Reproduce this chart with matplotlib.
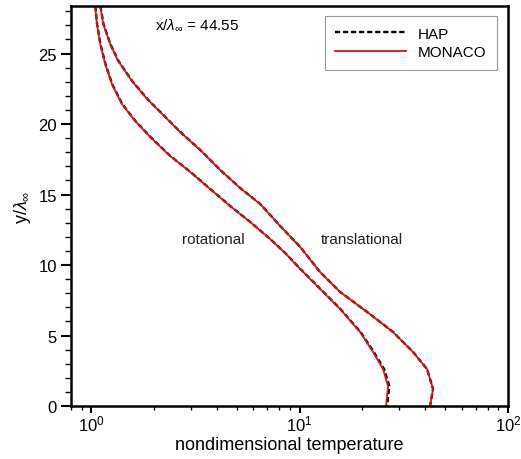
import matplotlib.pyplot as plt
from matplotlib.ticker import MultipleLocator, LogLocator, NullFormatter

plt.rcParams['font.family'] = ['Liberation Sans', 'DejaVu Sans']
plt.rcParams['mathtext.fontset'] = 'custom'
plt.rcParams['mathtext.rm'] = 'Liberation Sans'
plt.rcParams['mathtext.it'] = 'Liberation Sans:italic'

# wall-normal distance y/lambda_inf
y_rot = [28.37, 27.09, 25.67, 24.26, 22.84, 21.42, 20.21, 19.08, 17.73, 16.60,
         15.39, 14.18, 13.05, 11.84, 10.85, 9.72, 8.30, 6.88, 5.25, 3.83,
         2.62, 1.42, 0.0]
y_tr = [28.37, 27.09, 25.67, 24.47, 23.05, 21.77, 20.64, 19.43, 18.16, 16.74,
        15.46, 14.33, 12.77, 11.28, 9.50, 8.09, 6.67, 5.25, 3.83, 2.62,
        1.21, 0.0]

# MONACO temperatures
t_rot_monaco = [1.045, 1.065, 1.105, 1.167, 1.257, 1.404, 1.626, 1.919, 2.392, 2.985,
                3.722, 4.642, 5.790, 7.220, 8.520, 10.06, 12.54, 15.64, 19.51, 22.52,
                25.15, 26.58, 26.00]
t_tr_monaco = [1.105, 1.142, 1.233, 1.347, 1.568, 1.856, 2.214, 2.673, 3.333, 4.157,
               5.184, 6.465, 8.064, 10.06, 12.54, 15.64, 21.08, 28.08, 35.03, 40.89,
               43.69, 42.27]

# HAP temperatures
t_rot_hap = [1.047, 1.067, 1.107, 1.170, 1.260, 1.408, 1.630, 1.924, 2.398, 2.992,
             3.730, 4.650, 5.800, 7.230, 8.530, 10.08, 12.58, 15.70, 19.60, 22.70,
             25.45, 26.95, 26.30]
t_tr_hap = [1.107, 1.145, 1.236, 1.351, 1.572, 1.861, 2.219, 2.678, 3.338, 4.162,
            5.190, 6.470, 8.070, 10.07, 12.55, 15.65, 21.09, 28.09, 35.04, 40.90,
            43.70, 42.28]

fig = plt.figure(figsize=(5.21, 4.60), dpi=100)
ax = fig.add_axes([0.1363, 0.1152, 0.8387, 0.8696])

ax.plot(t_rot_hap, y_rot, '--', color='black', lw=1.7, label='HAP', dashes=(2.2, 1.2))
ax.plot(t_rot_monaco, y_rot, '-', color='#dd1111', lw=1.3, label='MONACO')
ax.plot(t_tr_hap, y_tr, '--', color='black', lw=1.7, dashes=(2.2, 1.2))
ax.plot(t_tr_monaco, y_tr, '-', color='#dd1111', lw=1.3)

ax.set_xscale('log')
ax.set_xlim(0.8, 100)
ax.set_ylim(0, 28.37)

ax.yaxis.set_major_locator(MultipleLocator(5))
ax.yaxis.set_minor_locator(MultipleLocator(1))
ax.xaxis.set_major_locator(LogLocator(base=10))
ax.xaxis.set_minor_locator(LogLocator(base=10, subs=range(2, 10)))
ax.xaxis.set_minor_formatter(NullFormatter())

ax.tick_params(axis='y', which='major', direction='out', length=7, width=1.5,
               labelsize=12, right=False, pad=3)
ax.tick_params(axis='y', which='minor', direction='out', length=4, width=1.0, right=False)
ax.tick_params(axis='x', which='major', direction='out', length=5, width=1.5,
               labelsize=12, top=False, pad=0.5)
ax.tick_params(axis='x', which='minor', direction='out', length=3, width=1.0, top=False)
for s in ax.spines.values():
    s.set_linewidth(1.8)

ax.set_xlabel('nondimensional temperature', fontsize=13)
ax.xaxis.set_label_coords(0.5, -0.074)
ax.set_ylabel(r'y/$\lambda_{\infty}$', fontsize=13)

ax.text(3.85, 11.85, 'rotational', fontsize=11, ha='center', va='center', color='#222222')
ax.text(19.9, 11.85, 'translational', fontsize=11, ha='center', va='center', color='#222222')
ax.text(3.22, 27.1, r'x/$\lambda_{\infty}$ = 44.55', fontsize=11, ha='center', va='center')

leg = ax.legend(loc='upper right', bbox_to_anchor=(0.975, 0.975), borderaxespad=0,
                fontsize=11, handlelength=4.6, fancybox=False, framealpha=1,
                edgecolor='#999999', borderpad=0.7, labelspacing=0.3)
leg.get_frame().set_linewidth(0.8)

fig.savefig('out.png', dpi=100)
